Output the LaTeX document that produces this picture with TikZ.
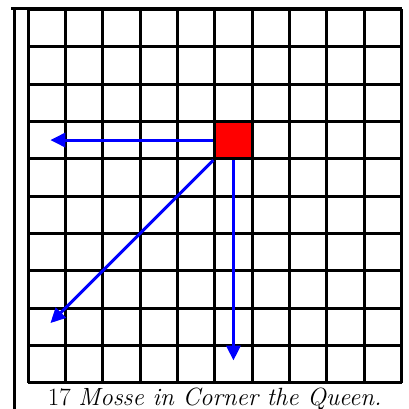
\documentclass[tikz,border=0pt]{standalone}
\usetikzlibrary{arrows.meta}
\definecolor{moveblue}{RGB}{0,0,255}
\definecolor{queenred}{RGB}{255,0,0}
\tikzset{
  >={Triangle[length=4mm,width=3.8mm]},
  board/.style={line width=2.3pt},
  frame/.style={line width=2.4pt},
  queen/.style={draw=black,fill=queenred,line width=2.3pt,minimum size=1cm,inner sep=0pt},
  move/.style={->,line width=2.3pt,draw=moveblue,fill=moveblue},
  caption/.style={font=\fontsize{19}{22}\selectfont,anchor=base}
}
\begin{document}
\begin{tikzpicture}
  \useasboundingbox (-0.75,-0.70) rectangle (10.2,10.25);
  % frame of the cell
  \draw[frame] (-0.37,-0.8) -- (-0.37,10.03);
  \draw[frame] (-0.45,10.03) -- (10.02,10.03);
  % board
  \draw[board] (0,0) grid (10,10);
  \node[queen] (q) at (5.5,6.5) {};
  \coordinate (left) at (0.6,6.5);
  \coordinate (down) at (5.5,0.6);
  \coordinate (diag) at (0.6,1.6);
  \draw[move] (q.west) -- (left);
  \draw[move] (q.south) -- (down);
  \draw[move] (q.south west) -- (diag);
  \node[caption] (cap) at (5,-0.6) {17 \textit{Mosse in Corner the Queen.}};
\end{tikzpicture}
\end{document}
